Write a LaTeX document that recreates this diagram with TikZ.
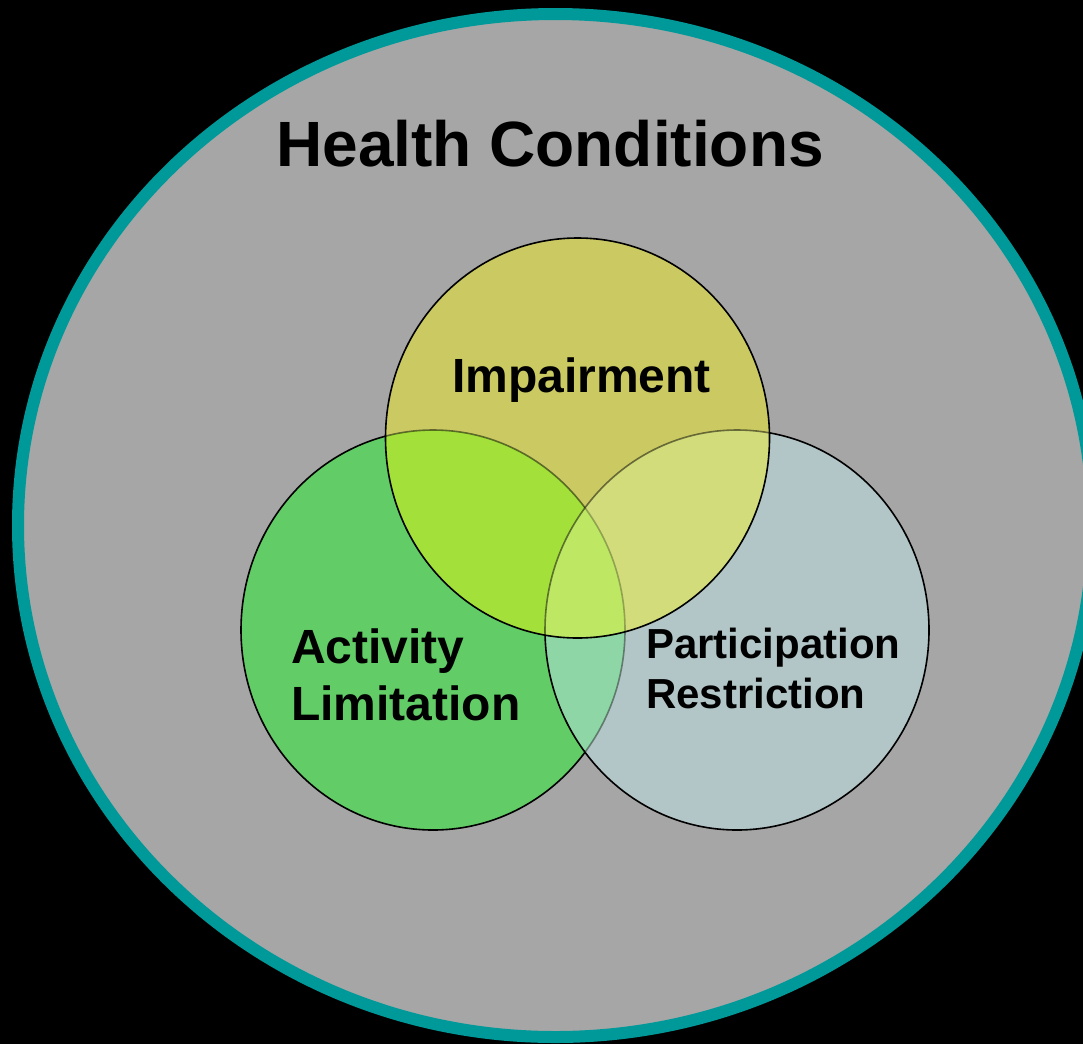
\documentclass[tikz,border=0pt]{standalone}
\usepackage{fontspec}
\setmainfont{Liberation Sans}
\definecolor{bgteal}{HTML}{009999}
\definecolor{bggray}{HTML}{A6A6A6}
\definecolor{cyel}{HTML}{CBCA62}
\definecolor{cgreen}{HTML}{62CC66}
\definecolor{cblue}{HTML}{B2C5C7}
\definecolor{cyg}{HTML}{A3E03A}
\definecolor{cyb}{HTML}{D2DC7A}
\definecolor{cgb}{HTML}{8FD6A6}
\definecolor{cygb}{HTML}{BEE864}
\begin{document}
\begin{tikzpicture}[x=1pt,y=-1pt,
  ol/.style={draw=black,line width=1.6pt},
  lbl/.style={inner sep=0pt,font=\bfseries\fontsize{48}{57}\selectfont,text=black}]
\useasboundingbox (0,0) rectangle (1083,1044);
\fill[black] (0,0) rectangle (1083,1044);
\coordinate (hcC) at (555.4,525.5);
\coordinate (gC) at (433,630);
\coordinate (bC) at (737,630);
\coordinate (yC) at (577.5,438);
\def\Gp{(gC) ellipse [x radius=192pt, y radius=200pt]}
\def\Bp{(bC) ellipse [x radius=192pt, y radius=200pt]}
\def\Yp{(yC) ellipse [x radius=192pt, y radius=200pt]}
% outer health conditions
\filldraw[fill=bggray,draw=bgteal,line width=12pt] (hcC) ellipse [x radius=537.4pt, y radius=511.5pt];
% green
\fill[cgreen] \Gp;
\draw[ol] \Gp;
% blue
\fill[cblue] \Bp;
\begin{scope}\clip \Gp; \fill[cgb] \Bp; \end{scope}
\begin{scope}\clip \Bp; \draw[ol,draw opacity=0.4] \Gp; \end{scope}
\draw[ol] \Bp;
% yellow
\fill[cyel] \Yp;
\begin{scope}
  \clip \Yp;
  \fill[cyg] \Gp;
  \draw[ol,draw opacity=0.5] \Gp;
  \fill[cyb] \Bp;
  \begin{scope}\clip \Gp; \fill[cygb] \Bp; \end{scope}
  \begin{scope}\clip \Bp; \draw[ol,draw opacity=0.28] \Gp; \end{scope}
  \draw[ol,draw opacity=0.5] \Bp;
\end{scope}
\draw[ol] \Yp;
% labels
\node[lbl,font=\bfseries\fontsize{64}{70}\selectfont,anchor=base] (hc) at (550,166) {Health Conditions};
\node[lbl,anchor=base] (imp) at (581.5,392) {Impairment};
\node[lbl,anchor=base west,align=left] (act) at (291,720) {Activity\\Limitation};
\node[lbl,font=\bfseries\fontsize{42}{50}\selectfont,anchor=base west,align=left] (par) at (646,708) {Participation\\Restriction};
\end{tikzpicture}
\end{document}
